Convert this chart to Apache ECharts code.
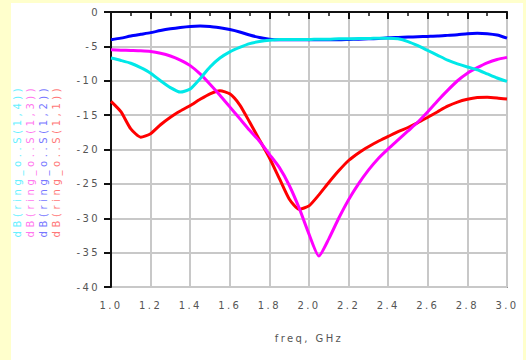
<!DOCTYPE html>
<html>
<head>
<meta charset="utf-8">
<script src="https://cdn.jsdelivr.net/npm/echarts@6/dist/echarts.min.js"></script>
<style>
html,body{margin:0;padding:0;background:#ffffcc;}
#chart{width:526px;height:360px;background:linear-gradient(#fff,#fff) 11px 3px / 512px 357px no-repeat,#ffffcc;}
#chart svg text{letter-spacing:2.4px;}
#chart svg text[fill="#66f0ff"],#chart svg text[fill="#ff77ee"],#chart svg text[fill="#7777ff"],#chart svg text[fill="#ff7777"]{letter-spacing:3.6px;}
</style>
</head>
<body>
<div id="chart"></div>
<script>
// frequency (GHz)
var freq = [1.00,1.05,1.10,1.15,1.20,1.25,1.30,1.35,1.40,1.45,1.50,1.55,1.60,1.65,1.70,1.75,1.80,1.85,1.90,1.95,2.00,2.05,2.10,2.15,2.20,2.25,2.30,2.35,2.40,2.45,2.50,2.55,2.60,2.65,2.70,2.75,2.80,2.85,2.90,2.95,3.00];
// dB(S(1,1))
var s11 = [-13.0,-14.5,-17.0,-18.2,-17.7,-16.4,-15.3,-14.4,-13.6,-12.7,-11.9,-11.45,-11.9,-13.5,-16.0,-18.6,-21.2,-24.2,-27.2,-28.7,-28.2,-26.6,-24.8,-23.1,-21.6,-20.5,-19.6,-18.8,-18.1,-17.4,-16.8,-16.1,-15.3,-14.5,-13.7,-13.1,-12.7,-12.45,-12.4,-12.5,-12.65];
// dB(S(1,2))
var s12 = [-4.05,-3.8,-3.5,-3.25,-3.0,-2.7,-2.45,-2.25,-2.1,-2.05,-2.1,-2.3,-2.55,-2.9,-3.35,-3.7,-3.95,-4.05,-4.05,-4.05,-4.05,-4.05,-4.05,-4.05,-4.0,-3.95,-3.9,-3.85,-3.75,-3.7,-3.65,-3.6,-3.55,-3.5,-3.4,-3.3,-3.15,-3.1,-3.15,-3.35,-3.8];
// dB(S(1,3))
var s13 = [-5.5,-5.55,-5.6,-5.65,-5.75,-6.0,-6.4,-7.0,-7.8,-9.0,-10.5,-12.1,-13.8,-15.5,-17.2,-18.8,-20.7,-22.6,-25.2,-28.5,-32.3,-35.5,-33.0,-30.0,-27.3,-25.0,-23.0,-21.3,-19.9,-18.6,-17.3,-16.0,-14.5,-12.9,-11.4,-10.0,-8.9,-8.1,-7.4,-6.9,-6.6];
// dB(S(1,4))
var s14 = [-6.7,-7.05,-7.45,-8.1,-8.9,-10.0,-11.0,-11.65,-11.2,-9.7,-8.0,-6.7,-5.8,-5.15,-4.6,-4.3,-4.1,-4.0,-4.0,-4.0,-4.0,-3.95,-3.95,-3.9,-3.9,-3.85,-3.85,-3.8,-3.8,-3.9,-4.3,-4.9,-5.6,-6.3,-7.0,-7.55,-8.0,-8.4,-9.0,-9.6,-10.1];
var traceNames = ['dB(ring_o..S(1,4))','dB(ring_o..S(1,3))','dB(ring_o..S(1,2))','dB(ring_o..S(1,1))'];
var xAxisName = 'freq, GHz';

function pairs(ys){ return freq.map(function(f,i){ return [f, ys[i]]; }); }

var chart = echarts.init(document.getElementById('chart'), null, {renderer:'svg'});
var labelFont = {fontFamily:'DejaVu Sans', fontSize:10, color:'#555'};
function line(name, ys, color, z){
  return {name:name, type:'line', data:pairs(ys), smooth:0.2, showSymbol:false, z:z,
    lineStyle:{color:color, width:3}, itemStyle:{color:color}};
}
var sideColors = ['#66f0ff','#ff77ee','#7777ff','#ff7777'];
var sideX = [17, 30, 43, 56];
var graphics = traceNames.map(function(t,i){
  return {type:'text', x:sideX[i], y:161, rotation:Math.PI/2,
    style:{text:t, fill:sideColors[i], font:'10px "DejaVu Sans"', textAlign:'center', textVerticalAlign:'middle'}};
});
chart.setOption({
  backgroundColor:'transparent',
  animation:false,
  grid:{left:111, top:12, right:19, bottom:73, show:true, borderColor:'#444', borderWidth:1.5, backgroundColor:'transparent'},
  graphic:graphics,
  xAxis:{type:'value', min:1, max:3, interval:0.2,
    name:xAxisName, nameLocation:'middle', nameGap:46, nameTextStyle:labelFont,
    axisLine:{lineStyle:{color:'#111', width:2}},
    axisTick:{show:true, length:7, lineStyle:{color:'#111', width:2}},
    minorTick:{show:true, splitNumber:2, length:4, lineStyle:{color:'#111', width:1.5}},
    splitLine:{show:true, lineStyle:{color:'#c8c8c8', width:2}},
    axisLabel:Object.assign({margin:13, formatter:function(v){return v.toFixed(1);}}, labelFont)
  },
  yAxis:{type:'value', min:-40, max:0, interval:5,
    axisLine:{show:true, lineStyle:{color:'#111', width:2}},
    axisTick:{show:true, length:7, lineStyle:{color:'#111', width:2}},
    splitLine:{show:true, lineStyle:{color:'#c8c8c8', width:2}},
    axisLabel:Object.assign({margin:11}, labelFont)
  },
  series:[
    line('S11', s11, '#ff0000', 2),
    line('S12', s12, '#0000ff', 3),
    line('S13', s13, '#ff00ff', 4),
    line('S14', s14, '#00e8e8', 5)
  ]
});
</script>
</body>
</html>
